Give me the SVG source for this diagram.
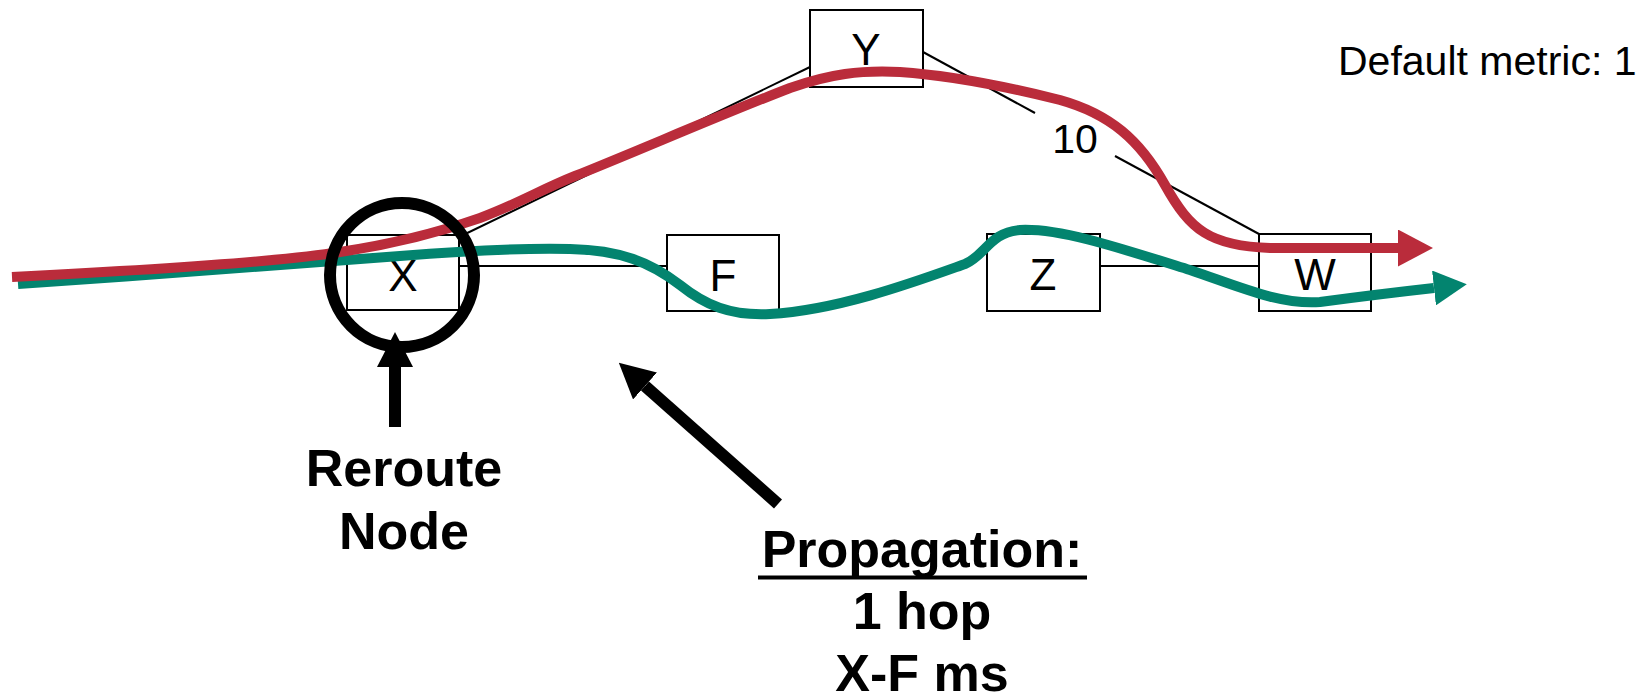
<svg xmlns="http://www.w3.org/2000/svg" width="1647" height="697" viewBox="0 0 1647 697">
<style>
.box{fill:#fff;stroke:#000;stroke-width:2}
.lbl{font-family:"Liberation Sans",Arial,sans-serif;font-size:44px;fill:#000;text-anchor:middle}
.link{stroke:#000;stroke-width:2;fill:none}
.note{font-family:"Liberation Sans",Arial,sans-serif;font-size:41px;fill:#000}
.bold{font-family:"Liberation Sans",Arial,sans-serif;font-size:52px;font-weight:bold;fill:#000;text-anchor:middle}
.red{stroke:#BA2C3B;stroke-width:10;fill:none;stroke-linejoin:round}
.teal{stroke:#03846F;stroke-width:10;fill:none;stroke-linejoin:round}
.blk{stroke:#000;stroke-width:12;fill:none}
</style>
<defs>
<marker id="hBlack" markerUnits="userSpaceOnUse" viewBox="0 0 35 36" markerWidth="35" markerHeight="36" refX="0" refY="18" orient="auto"><path d="M0,0 L35,18 L0,36 z" fill="#000"/></marker>
<marker id="hRed" markerUnits="userSpaceOnUse" viewBox="0 0 35 37" markerWidth="35" markerHeight="37" refX="0" refY="18.5" orient="auto"><path d="M0,0 L35,18.5 L0,37 z" fill="#BA2C3B"/></marker>
<marker id="hTeal" markerUnits="userSpaceOnUse" viewBox="0 0 33 35" markerWidth="33" markerHeight="35" refX="0" refY="17.5" orient="auto"><path d="M0,0 L33,17.5 L0,35 z" fill="#03846F"/></marker>
</defs>
<rect width="1647" height="697" fill="#fff"/>
<g id="connectors">
<line class="link" x1="459" y1="266" x2="667" y2="266"/>
<line class="link" x1="1100" y1="266" x2="1259" y2="266"/>
<line class="link" x1="459" y1="237" x2="810" y2="67"/>
<line class="link" x1="923" y1="52" x2="1035" y2="113"/>
<line class="link" x1="1115" y1="156" x2="1259" y2="234"/>
<text class="note" x="1075" y="153" text-anchor="middle" font-size="40">10</text>
</g>
<g id="node-X"><rect class="box" x="347" y="235" width="112" height="75"/><text class="lbl" x="403" y="291">X</text></g>
<g id="node-Y"><rect class="box" x="810" y="10" width="113" height="77"/><text class="lbl" x="866" y="65">Y</text></g>
<g id="node-F"><rect class="box" x="667" y="235" width="112" height="76"/><text class="lbl" x="723" y="291">F</text></g>
<g id="node-Z"><rect class="box" x="987" y="234" width="113" height="77"/><text class="lbl" x="1043" y="290">Z</text></g>
<g id="node-W"><rect class="box" x="1259" y="234" width="112" height="77"/><text class="lbl" x="1315" y="290">W</text></g>
<g id="paths">
<path class="teal" marker-end="url(#hTeal)" d="M18,284 C150,275 300,264 400,256 C460,251 520,248 570,249 C620,250 650,262 680,285 C705,305 730,316 770,314 C840,310 920,280 965,264 C985,256 990,232 1020,230 C1060,228 1120,248 1190,270 C1240,287 1280,305 1320,302 C1350,298 1380,294 1434,288"/>
<path class="red" marker-end="url(#hRed)" d="M12,277 C150,270 280,262 340,252 C400,243 440,232 480,218 C520,203 540,190 575,176 C640,150 720,115 790,88 C830,74 860,70 900,72 C960,76 1020,90 1060,100 C1110,114 1140,140 1165,185 C1190,230 1210,246 1270,248 L1398,248"/>
</g>
<g id="reroute-node">
<circle cx="402" cy="275" r="72" fill="none" stroke="#000" stroke-width="12"/>
<line class="blk" x1="395" y1="427" x2="395" y2="367" marker-end="url(#hBlack)"/>
<text class="bold" x="404" y="486">Reroute</text>
<text class="bold" x="404" y="549">Node</text>
</g>
<g id="propagation">
<line class="blk" stroke-width="13" x1="778" y1="504" x2="645" y2="386" marker-end="url(#hBlack)"/>
<text class="bold" x="922" y="567" font-size="53">Propagation:</text>
<line x1="758" y1="577.5" x2="1087" y2="577.5" stroke="#000" stroke-width="4"/>
<text class="bold" x="922" y="629" font-size="53">1 hop</text>
<text class="bold" x="922" y="691" font-size="53">X-F ms</text>
</g>
<text id="default-metric" class="note" x="1338" y="75">Default metric: 1</text>
</svg>
